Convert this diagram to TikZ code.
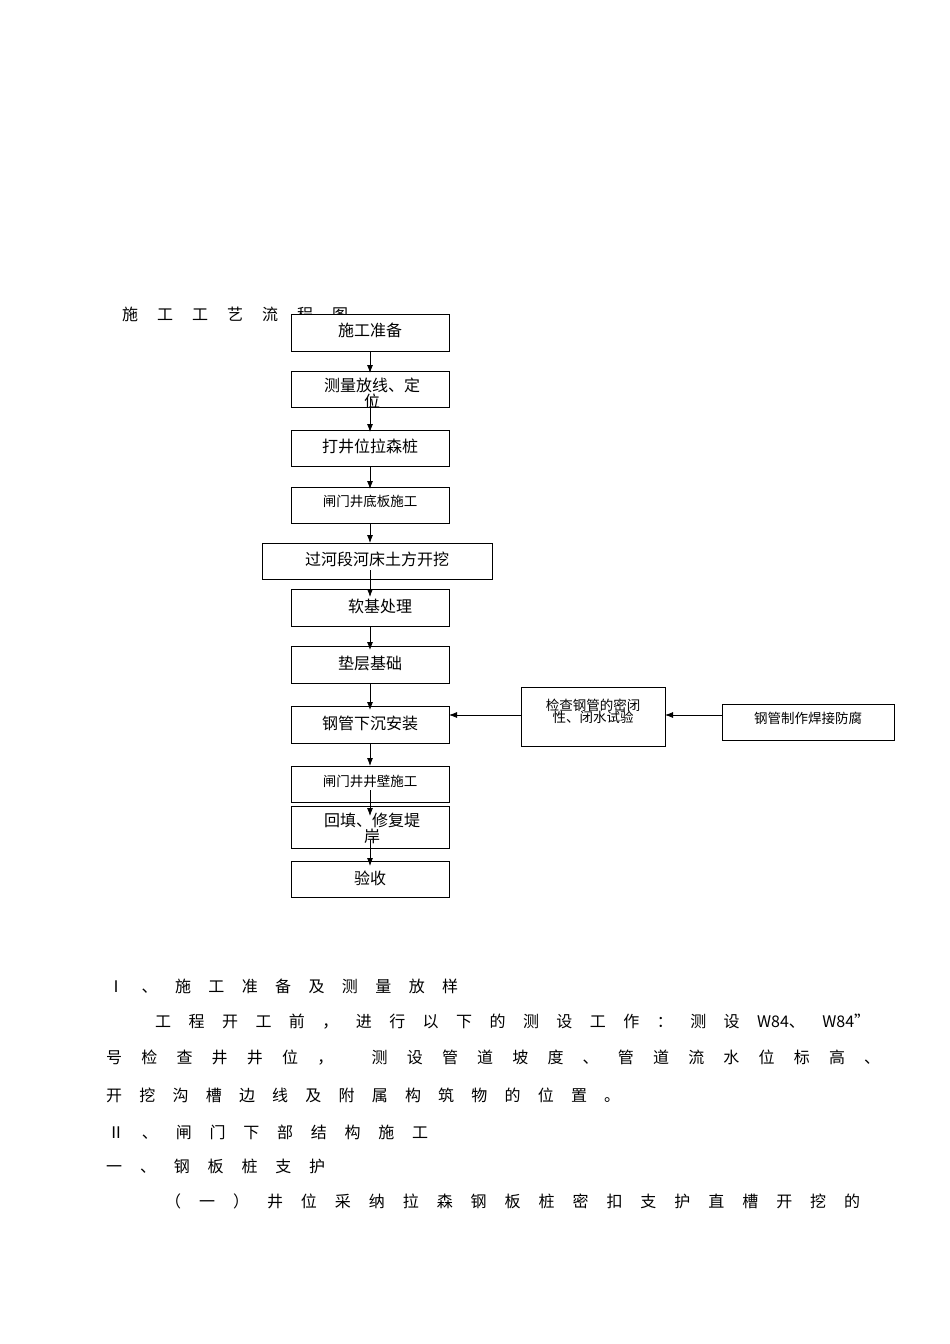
\documentclass[tikz,border=0pt]{standalone}
\usepackage{fontspec}
\setmainfont{Noto Sans CJK SC}
\usetikzlibrary{arrows.meta}
\begin{document}
\begin{tikzpicture}[x=1pt,y=-1pt,
  box/.style={draw,fill=white,line width=0.8pt,inner sep=0pt},
  lbl/.style={font=\fontsize{16}{18}\selectfont},
  slbl/.style={font=\fontsize{13.5}{15}\selectfont},
  arr/.style={-{Latex[length=8pt,width=6pt]},line width=0.8pt},
  body/.style={anchor=west,inner sep=0pt,font=\fontsize{16}{18}\selectfont}]
\useasboundingbox (0,0) rectangle (950,1344);
\node[body] (title) at (122,314) {\makebox[226pt][s]{施 工 工 艺 流 程 图}};
% main column boxes
\newcommand{\mybox}[6]{\draw[box] (#1,#2) rectangle (#3,#4) node[pos=0.5,#5] (#6) {};}
\draw[box] (291,314) rectangle (449,351); \node[lbl] (b1) at (370,330) {施工准备};
\draw[box] (291,371) rectangle (449,407);
\begin{scope}\clip (291,371) rectangle (449,407);
\node[lbl,align=center,anchor=north] (b2) at (372,374) {测量放线、定\\[-2pt]位};\end{scope}
\draw[box] (291,430) rectangle (449,466); \node[lbl] (b3) at (370,446) {打井位拉森桩};
\draw[box] (291,487) rectangle (449,523); \node[slbl] (b4) at (370,501) {闸门井底板施工};
\draw[box] (262,543) rectangle (492,579); \node[lbl] (b5) at (377,559) {过河段河床土方开挖};
\draw[box] (291,589) rectangle (449,626); \node[lbl] (b6) at (380,606) {软基处理};
\draw[box] (291,646) rectangle (449,683); \node[lbl] (b7) at (370,663) {垫层基础};
\draw[box] (291,706) rectangle (449,743); \node[lbl] (b8) at (370,723) {钢管下沉安装};
\draw[box] (291,766) rectangle (449,802); \node[slbl] (b9) at (370,781) {闸门井井壁施工};
\draw[box] (291,806) rectangle (449,848);
\begin{scope}\clip (291,806) rectangle (449,848);
\node[lbl,align=center,anchor=north] (b10) at (372,810) {回填、修复堤\\[-2pt]岸};\end{scope}
\draw[box] (291,861) rectangle (449,897); \node[lbl] (b11) at (370,878) {验收};
\draw[box] (521,687) rectangle (665,746);
\node[slbl,align=center] (c1) at (593,711) {检查钢管的密闭\\[-3pt]性、闭水试验};
\draw[box] (722,704) rectangle (894,740);
\node[slbl] (c2) at (808,718) {钢管制作焊接防腐};
% arrows
\coordinate (a1) at (370,351); \coordinate (a1e) at (370,373);
\draw[arr] (a1) -- (a1e);
\draw[arr] (370,397) coordinate (a2) -- (370,432) coordinate (a2e);
\draw[arr] (370,466) coordinate (a3) -- (370,489) coordinate (a3e);
\draw[arr] (370,523) coordinate (a4) -- (370,543) coordinate (a4e);
\draw[arr] (370,570) coordinate (a5) -- (370,597) coordinate (a5e);
\draw[arr] (370,626) coordinate (a6) -- (370,650) coordinate (a6e);
\draw[arr] (370,683) coordinate (a7) -- (370,710) coordinate (a7e);
\draw[arr] (370,743) coordinate (a8) -- (370,766) coordinate (a8e);
\draw[arr] (370,790) coordinate (a9) -- (370,816) coordinate (a9e);
\draw[arr] (370,840) coordinate (a10) -- (370,866) coordinate (a10e);
\draw[arr] (521,715) coordinate (r1) -- (449,715) coordinate (r1e);
\draw[arr] (722,715) coordinate (r2) -- (665,715) coordinate (r2e);
% body text
\node[body] (t1) at (108,986) {\makebox[350pt][s]{Ⅰ 、 施 工 准 备 及 测 量 放 样}};
\node[body] (t2) at (155,1022) {\makebox[715pt][s]{工 程 开 工 前 ， 进 行 以 下 的 测 设 工 作 ： 测 设 W84、 W84”}};
\node[body] (t3) at (106,1058) {\makebox[774pt][s]{号 检 查 井 井 位 ， \ 测 设 管 道 坡 度 、 管 道 流 水 位 标 高 、}};
\node[body] (t4) at (106,1095) {\makebox[514pt][s]{开 挖 沟 槽 边 线 及 附 属 构 筑 物 的 位 置 。}};
\node[body] (t5) at (108,1132) {\makebox[320pt][s]{Ⅱ 、 闸 门 下 部 结 构 施 工}};
\node[body] (t6) at (106,1166) {\makebox[219pt][s]{一 、 钢 板 桩 支 护}};
\node[body] (t7) at (165,1201) {\makebox[695pt][s]{（ 一 ） 井 位 采 纳 拉 森 钢 板 桩 密 扣 支 护 直 槽 开 挖 的}};
\end{tikzpicture}
\end{document}
